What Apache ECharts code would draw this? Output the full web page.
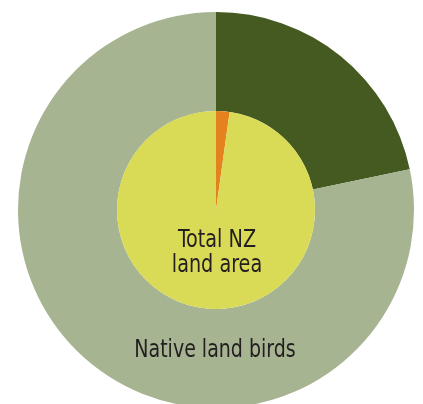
<!DOCTYPE html>
<html>
<head>
<meta charset="utf-8">
<script src="https://cdn.jsdelivr.net/npm/echarts@6/dist/echarts.min.js"></script>
<style>
  html, body { margin: 0; padding: 0; background: #fff; }
  #chart { width: 423px; height: 404px; }
</style>
</head>
<body>
<div id="chart"></div>
<script>
var chartDom = document.getElementById('chart');
var myChart = echarts.init(chartDom);

// inner pie: share of total NZ land area
var innerNames = ['Native land bird area', 'Total NZ land area'];
var innerValues = [2.2, 97.8];
var innerColors = ['#e4821d', '#d9da56'];

// outer ring: native land birds
var outerNames = ['Threatened', 'Native land birds'];
var outerValues = [21.7, 78.3];
var outerColors = ['#445a20', '#a6b492'];

function build(names, values, colors) {
  var out = [];
  for (var i = 0; i < names.length; i++) {
    out.push({ name: names[i], value: values[i], itemStyle: { color: colors[i] } });
  }
  return out;
}

var textFont = '"Liberation Sans Narrow", "DejaVu Sans Condensed", sans-serif';

var option = {
  animation: false,
  series: [
    {
      type: 'pie',
      center: [216, 210],
      radius: [99, 198],
      startAngle: 90,
      clockwise: true,
      silent: true,
      label: { show: false },
      labelLine: { show: false },
      itemStyle: { borderWidth: 0 },
      data: build(outerNames, outerValues, outerColors)
    },
    {
      type: 'pie',
      center: [216, 210],
      radius: [0, 99],
      startAngle: 90,
      clockwise: true,
      silent: true,
      label: { show: false },
      labelLine: { show: false },
      itemStyle: { borderWidth: 0 },
      data: build(innerNames, innerValues, innerColors)
    }
  ],
  graphic: [
    {
      type: 'text',
      x: 217, y: 228, z: 100,
      scaleX: 0.89,
      style: {
        text: 'Total NZ\nland area',
        align: 'center',
        verticalAlign: 'top',
        font: '24px ' + textFont,
        lineHeight: 25,
        fill: '#231f20'
      }
    },
    {
      type: 'text',
      x: 215, y: 339, z: 100,
      scaleX: 0.88,
      style: {
        text: outerNames[1],
        align: 'center',
        verticalAlign: 'top',
        font: '24px ' + textFont,
        fill: '#231f20'
      }
    }
  ]
};

myChart.setOption(option);
</script>
</body>
</html>
